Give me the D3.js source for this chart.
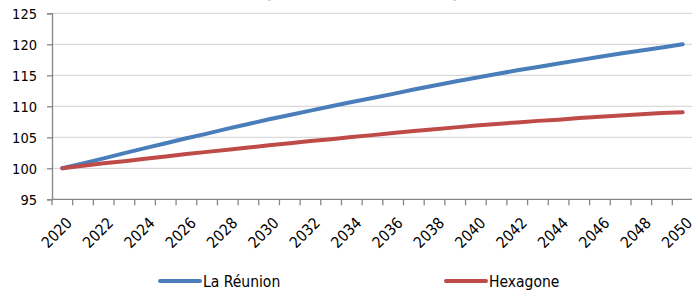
<!DOCTYPE html>
<html>
<head>
<meta charset="utf-8">
<script src="https://cdn.jsdelivr.net/npm/d3@7"></script>
<style>
  body { margin: 0; background: #fff; }
  svg text { font-family: "DejaVu Sans Condensed", "DejaVu Sans", sans-serif; fill: #000; }
</style>
</head>
<body>
<svg id="chart" width="692" height="290"></svg>
<script>
// years on the category axis
const years = d3.range(2020, 2051);
// index, base 100 in 2020
const reunion = [100.0, 100.8, 101.6, 102.45, 103.25, 104.05, 104.85, 105.6, 106.4, 107.15,
  107.9, 108.6, 109.3, 110.0, 110.7, 111.35, 112.0, 112.7, 113.35, 114.0,
  114.6, 115.2, 115.8, 116.35, 116.9, 117.45, 118.0, 118.5, 119.0, 119.5, 120.0];
const hexagone = [100.0, 100.4, 100.8, 101.15, 101.55, 101.9, 102.3, 102.65, 103.0, 103.35,
  103.7, 104.05, 104.4, 104.7, 105.05, 105.35, 105.7, 106.0, 106.3, 106.6,
  106.9, 107.15, 107.4, 107.65, 107.85, 108.1, 108.3, 108.5, 108.7, 108.9, 109.05];
const yTicks = [95, 100, 105, 110, 115, 120, 125];
const seriesNames = ["La Réunion", "Hexagone"];
const colors = ["#4a7ebb", "#be4b48"];

const svg = d3.select("#chart");
const plotLeft = 52, plotRight = 693, plotTop = 13.3, plotBottom = 199.3;

const x = d3.scaleBand().domain(years).range([plotLeft, plotRight]);
const y = d3.scaleLinear().domain([95, 125]).range([plotBottom, plotTop]);

// title, cut off by the top of the picture
svg.append("text")
  .attr("x", 362).attr("y", -2.5)
  .attr("text-anchor", "middle")
  .style("font-size", "15px").style("font-weight", "bold")
  .text("(base 100 en 2020, en %)");

// gridlines
svg.append("g").selectAll("line")
  .data(yTicks.slice(1))
  .join("line")
  .attr("x1", plotLeft).attr("x2", plotRight)
  .attr("y1", d => y(d)).attr("y2", d => y(d))
  .attr("stroke", "#d9d9d9").attr("stroke-width", 1.3);

// y axis
const yAxis = svg.append("g")
  .attr("transform", `translate(${plotLeft},0)`)
  .call(d3.axisLeft(y).tickValues(yTicks).tickSize(5).tickPadding(10));
yAxis.select(".domain").attr("stroke", "#868686").attr("stroke-width", 1.3);
yAxis.selectAll(".tick line").attr("stroke", "#868686").attr("stroke-width", 1.3);
yAxis.selectAll("text").style("font-size", "14.5px").attr("fill", "#000").attr("dy", "0.36em");

// x axis: one tick per category boundary
const xAxis = svg.append("g").attr("transform", `translate(0,${plotBottom})`);
xAxis.append("line")
  .attr("x1", plotLeft).attr("x2", plotRight)
  .attr("stroke", "#868686").attr("stroke-width", 1.3);
xAxis.selectAll("line.tk")
  .data(years)
  .join("line").attr("class", "tk")
  .attr("x1", d => x(d)).attr("x2", d => x(d))
  .attr("y1", 0).attr("y2", 6)
  .attr("stroke", "#868686").attr("stroke-width", 1.3);
xAxis.selectAll("text")
  .data(years.filter(d => d % 2 === 0))
  .join("text")
  .attr("transform", d => `translate(${x(d) + x.bandwidth() / 2 + 3},${17}) rotate(-45)`)
  .attr("text-anchor", "end")
  .attr("dy", "0.7em")
  .style("font-size", "15.5px")
  .text(d => d);

// lines
const line = d3.line()
  .x((d, i) => x(years[i]) + x.bandwidth() / 2)
  .y(d => y(d));

svg.append("g").selectAll("path")
  .data([reunion, hexagone])
  .join("path")
  .attr("d", line)
  .attr("fill", "none")
  .attr("stroke", (d, i) => colors[i])
  .attr("stroke-width", 4)
  .attr("stroke-linecap", "round")
  .attr("stroke-linejoin", "round");

// legend
const legendX = [160, 446];
const legend = svg.append("g").selectAll("g")
  .data(seriesNames)
  .join("g")
  .attr("transform", (d, i) => `translate(${legendX[i]},281)`);
legend.append("line")
  .attr("x1", 0).attr("x2", 40)
  .attr("stroke", (d, i) => colors[i])
  .attr("stroke-width", 4)
  .attr("stroke-linecap", "round");
legend.append("text")
  .attr("x", 43).attr("y", 6)
  .style("font-size", "15.5px")
  .text(d => d);
</script>
</body>
</html>
